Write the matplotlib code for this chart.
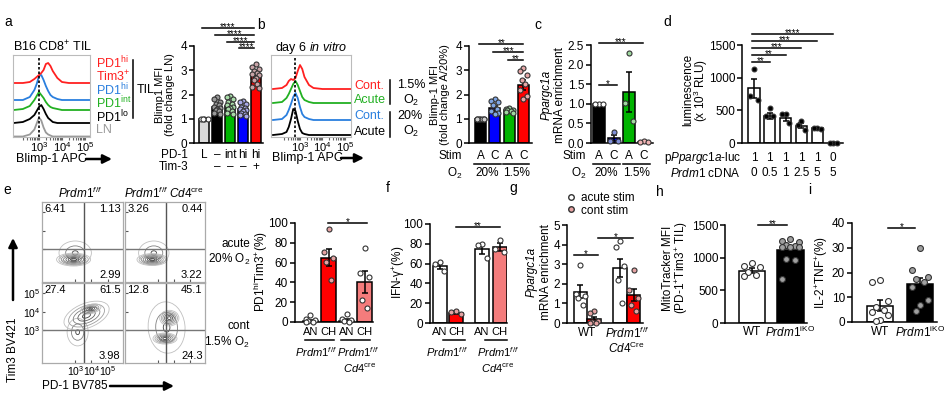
import matplotlib
matplotlib.use('Agg')
import matplotlib.pyplot as plt
from matplotlib.patches import Ellipse, FancyArrowPatch
from matplotlib.lines import Line2D
import numpy as np

plt.rcParams['font.family'] = ['Liberation Sans', 'DejaVu Sans']
plt.rcParams['mathtext.fontset'] = 'custom'
plt.rcParams['mathtext.rm'] = 'Liberation Sans'
plt.rcParams['mathtext.it'] = 'Liberation Sans:italic'
plt.rcParams['mathtext.bf'] = 'Liberation Sans:bold'
plt.rcParams['font.size'] = 8.5

# ---------------- data ----------------
# a: flow histograms (x = log10 fluorescence, y = relative height)
hist_a_x = [1.9, 2.3, 2.6, 2.8, 2.9, 3.0, 3.1, 3.2, 3.3, 3.4, 3.5, 3.6, 3.8, 4.0, 4.3, 5.2]
hist_a = {
    'red':   [0, 0, 1, 4, 6, 8, 10, 13, 19, 20, 17, 12, 5, 1, 0, 0],
    'blue':  [0, 0, 3, 10, 16, 24, 25, 20, 14, 9, 5, 3, 1, 0, 0, 0],
    'green': [0, 1, 4, 10, 14, 18, 15, 12, 8, 5, 3, 2, 1, 0, 0, 0],
    'black': [0, 1, 4, 8, 12, 16, 18, 14, 9, 5, 3, 1, 0, 0, 0, 0],
    'gray':  [0, 0, 2, 7, 13, 19, 16, 9, 4, 2, 1, 0, 0, 0, 0, 0],
}
a_cats = ['L', '–', 'int', 'hi', 'hi']
a_tim3 = ['', '–', '–', '–', '+']
a_mean = [1.0, 1.47, 1.52, 1.4, 2.75]
a_err = [0.02, 0.07, 0.07, 0.06, 0.09]
a_pts = [[1.0, 1.0, 1.0, 1.0],
         [1.9, 1.8, 1.7, 1.6, 1.55, 1.5, 1.45, 1.4, 1.35, 1.3, 1.25, 1.2],
         [1.95, 1.9, 1.8, 1.7, 1.6, 1.55, 1.5, 1.45, 1.4, 1.3, 1.25, 1.2],
         [1.75, 1.7, 1.6, 1.5, 1.45, 1.4, 1.35, 1.3, 1.25, 1.2, 1.15, 1.1],
         [3.25, 3.15, 3.05, 2.95, 2.9, 2.85, 2.8, 2.7, 2.6, 2.45, 2.3, 2.25]]

# b: in vitro histograms
hist_b_x = [1.8, 2.2, 2.4, 2.5, 2.6, 2.7, 2.8, 2.9, 3.0, 3.1, 3.2, 3.4, 3.6, 4.0, 5.3]
hist_b = {
    'red':   [0, 1, 4, 8, 10, 9, 11, 18, 24, 20, 12, 4, 1, 0, 0],
    'green': [0, 1, 5, 9, 14, 19, 22, 18, 12, 6, 3, 1, 0, 0, 0],
    'blue':  [0, 1, 5, 10, 16, 23, 27, 22, 13, 6, 3, 1, 0, 0, 0],
    'black': [0, 1, 3, 8, 16, 26, 24, 14, 6, 2, 1, 0, 0, 0, 0],
}
b_stim = ['A', 'C', 'A', 'C']
b_o2 = ['20%', '1.5%']
b_mean = [1.0, 1.43, 1.36, 2.38]
b_err = [0.01, 0.1, 0.03, 0.2]
b_pts = [[1.0] * 7,
         [1.8, 1.75, 1.7, 1.55, 1.4, 1.3, 1.25, 1.2],
         [1.45, 1.4, 1.38, 1.35, 1.3, 1.28, 1.25],
         [3.1, 2.95, 2.8, 2.6, 2.45, 2.2, 1.95, 1.8]]

# c: Ppargc1a mRNA
c_mean = [1.0, 0.12, 1.3, 0.03]
c_err = [0.0, 0.08, 0.52, 0.01]
c_pts = [[1.0, 1.0, 1.0], [0.28, 0.05, 0.04], [2.3, 1.02, 0.55], [0.05, 0.02, 0.02]]

# d: luciferase
d_luc = ['1', '1', '1', '1', '1', '0']
d_cdna = ['0', '0.5', '1', '2.5', '5', '5']
d_mean = [840, 420, 390, 265, 225, 0]
d_err = [145, 45, 60, 40, 8, 0]
d_pts = [[1130, 720, 660], [540, 420, 410], [450, 440, 300],
         [340, 270, 200], [230, 225, 220], [0, 0, 0]]

# e: flow quadrants
e_ul = [6.41, 3.26, 27.4, 12.8]
e_ur = [1.13, 0.44, 61.5, 45.1]
e_lr = [2.99, 3.22, 3.98, 24.3]
e_gate_x = [3.55, 3.5, 3.55, 3.5]
e_gate_y = [3.0, 3.0, 3.0, 3.0]
# contour blobs: (x, y, width, height, angle, levels) in log10 units
e_blobs = [
    [(3.0, 2.8, 2.0, 1.3, 0, 3), (2.9, 2.44, 2.1, 0.7, 0, 7)],
    [(2.75, 2.8, 1.9, 1.3, 0, 3), (2.65, 2.44, 1.9, 0.65, 0, 7)],
    [(3.15, 2.9, 1.3, 1.5, 0, 3), (3.7, 3.8, 2.9, 1.35, 18, 5), (3.95, 4.15, 1.3, 0.5, 12, 5)],
    [(3.55, 3.15, 2.3, 2.8, 8, 3), (3.72, 3.66, 1.2, 0.85, 0, 6), (3.45, 2.55, 1.5, 0.6, 0, 6)],
]
e_cats = ['AN', 'CH', 'AN', 'CH']
e_mean = [1.5, 65, 1.5, 40.5]
e_err = [1.0, 8.5, 1.2, 11]
e_pts = [[7, 3, 2, 1, 0.5, 0.3], [94, 71, 65, 61, 42], [8, 3, 2, 1, 0.5],
         [75, 50, 45, 22, 14]]

# f: IFN-g
f_mean = [58, 10.5, 75, 77]
f_err = [3, 1.5, 5, 4]
f_pts = [[62, 60, 53], [12, 11, 9], [80, 79, 66], [84, 75, 72]]

# g: Ppargc1a, WT vs Prdm1 cKO
g_mean = [1.6, 0.2, 2.82, 1.43]
g_err = [0.32, 0.12, 0.45, 0.33]
g_pts = [[2.95, 1.5, 1.4, 1.3, 0.9], [0.6, 0.5, 0.1, 0.05, 0.0, 0.0],
         [4.2, 3.9, 2.9, 2.2, 1.0], [2.7, 1.7, 1.3, 0.9, 0.6]]

# h: MitoTracker
h_mean = [800, 1110]
h_err = [40, 60]
h_pts = [[920, 880, 860, 780, 730, 720],
         [1280, 1260, 1240, 1190, 1180, 1170, 1170, 1160, 980, 970, 680]]

# i: IL-2+TNF+
i_mean = [6.6, 15.2]
i_err = [2.2, 2.5]
i_pts = [[17, 16, 8.5, 6, 5, 4, 3, 1, 0.5], [30, 21, 18, 17.5, 16, 14, 9, 7, 4.5]]

RED = '#ff0000'
SALMON = '#f47c7c'
GREEN = '#00b400'
BLUE = '#0000ff'
PINK = '#e6a3a3'

# ---------------- helpers ----------------
W, H = 953, 398
fig = plt.figure(figsize=(W / 100, H / 100), dpi=100)


def axes_px(x0, y0, x1, y1):
    ax = fig.add_axes([x0 / W, 1 - y1 / H, (x1 - x0) / W, (y1 - y0) / H])
    ax.hpx = y1 - y0
    return ax


def ftext(x, y, s, **kw):
    kw.setdefault('ha', 'center')
    kw.setdefault('va', 'center')
    fig.text(x / W, 1 - y / H, s, **kw)


def fline(x0, y0, x1, y1, **kw):
    kw.setdefault('color', 'black')
    kw.setdefault('lw', 1.1)
    fig.add_artist(Line2D([x0 / W, x1 / W], [1 - y0 / H, 1 - y1 / H],
                          transform=fig.transFigure, **kw))


def farrow(x0, y0, x1, y1):
    fig.add_artist(FancyArrowPatch((x0 / W, 1 - y0 / H), (x1 / W, 1 - y1 / H),
                                   transform=fig.transFigure, arrowstyle='-|>',
                                   mutation_scale=13, lw=1.8, color='black',
                                   shrinkA=0, shrinkB=0))


def bar_axes(box, xlim, ylim, yticks):
    ax = axes_px(*box)
    ax.set_xlim(xlim)
    ax.set_ylim(ylim)
    ax.set_yticks(yticks)
    ax.set_xticks([])
    ax.spines[['top', 'right']].set_visible(False)
    ax.spines[['left', 'bottom']].set_linewidth(1.1)
    ax.tick_params(axis='y', length=3.5, width=1.1, labelsize=8.5, pad=1.5)
    ax.patch.set_visible(False)
    return ax


PAT = np.array([0, -1, 1, -0.5, 0.5, -1, 1, 0, -0.5, 0.5, -1, 1, 0, -0.75, 0.75])


def bars(ax, pos, vals, errs, fills, pts, pfills, width, ms=13):
    ax.bar(pos, vals, width=width, color=fills, edgecolor='black', linewidth=1.1, zorder=2)
    ax.errorbar(pos, vals, yerr=errs, fmt='none', ecolor='black', elinewidth=1.1,
                capsize=2.5, capthick=1.1, zorder=3)
    for i, p in enumerate(pts):
        offs = PAT[:len(p)] * width * 0.32
        ax.scatter(np.array(pos[i]) + offs, p, s=ms, facecolor=pfills[i],
                   edgecolor='#333333', linewidth=0.8, zorder=4, clip_on=False)


def sig(ax, x0, x1, y, s):
    ax.plot([x0, x1], [y, y], color='black', lw=1.1, clip_on=False)
    ax.annotate(s, ((x0 + x1) / 2, y), xytext=(0, -3.2), textcoords='offset points',
                ha='center', va='bottom', fontsize=7, annotation_clip=False)


def under(ax, x, dy, s, **kw):
    ax.text(x, -dy / ax.hpx, s, transform=ax.get_xaxis_transform(), ha='center',
            va='center', clip_on=False, **kw)


def underline(ax, x0, x1, dy):
    ax.plot([x0, x1], [-dy / ax.hpx] * 2, transform=ax.get_xaxis_transform(),
            color='black', lw=1.1, clip_on=False)


def hist_axes(box, xlim):
    ax = axes_px(*box)
    ax.set_xlim(xlim)
    ax.set_ylim(0, box[3] - box[1])
    ax.set_yticks([])
    ax.set_xticks([3, 4, 5])
    ax.set_xticklabels(['$10^3$', '$10^4$', '$10^5$'], fontsize=8)
    minor = np.log10(np.outer([2, 3, 4, 5, 6, 7, 8, 9], [1e2, 1e3, 1e4]).ravel())
    ax.set_xticks(minor[minor < xlim[1]], minor=True)
    ax.tick_params(axis='x', which='both', length=2, width=0.8, color='#666', pad=0)
    for s in ax.spines.values():
        s.set_color('#bbbbbb')
        s.set_linewidth(0.8)
    return ax


# ---------------- panel a: histograms ----------------
ax = hist_axes((13, 55, 90, 137), (1.87, 5.22))
a_cols = {'red': '#ff2020', 'blue': '#2a7fde', 'green': '#22b022', 'black': 'black', 'gray': '#9a9a9a'}
a_base = {'red': 54, 'blue': 37, 'green': 27, 'black': 14, 'gray': 0.5}
for k in ['gray', 'black', 'green', 'blue', 'red']:
    ax.plot(hist_a_x, np.array(hist_a[k]) + a_base[k], color=a_cols[k], lw=1.3)
ax.axvline(3.0, color='black', lw=1.2, ls=(0, (1.5, 1.2)), ymax=0.98)
ftext(53, 47, 'B16 CD8$^{+}$ TIL', fontsize=9)
for y, s, c in [(63, 'PD1$^{\\mathrm{hi}}$', '#ff2020'), (77, 'Tim3$^{+}$', '#ff2020'),
                (90, 'PD1$^{\\mathrm{hi}}$', '#2a7fde'), (103, 'PD1$^{\\mathrm{int}}$', '#22b022'),
                (117, 'PD1$^{\\mathrm{lo}}$', 'black'), (130, 'LN', '#9a9a9a')]:
    ftext(96, y, s, color=c, ha='left', fontsize=9)
fline(133, 60, 133, 118)
ftext(137, 90, 'TIL', ha='left', fontsize=9)
ftext(16, 159, 'Blimp-1 APC', ha='left', fontsize=9)
farrow(86, 159, 112, 159)

# ---------------- panel a: bars ----------------
ax = bar_axes((194, 46, 263, 143), (-0.8, 4.56), (0, 4), [0, 1, 2, 3, 4])
pos = np.arange(5)
bars(ax, pos, a_mean, a_err, ['#d9d9d9', 'black', GREEN, BLUE, RED], a_pts,
     ['#ffffff', '#9a9a9a', '#a8dca8', '#a8a8e8', '#c9a4a8'], 0.8)
for p, s in zip(pos, a_cats):
    under(ax, p, 12, s)
for p, s in zip(pos, a_tim3):
    under(ax, p, 24, s)
ftext(188, 155, 'PD-1', ha='right')
ftext(188, 167, 'Tim-3', ha='right')
for x0, y in zip([-0.2, 0.8, 1.8, 2.7], [4.74, 4.45, 4.16, 3.92]):
    sig(ax, x0, 3.85, y, '****')
ftext(165, 95, 'Blimp1 MFI\n(fold change LN)', rotation=90, linespacing=1.05, fontsize=8)

# ---------------- panel b: histograms ----------------
ax = hist_axes((271, 55, 351, 137), (1.71, 5.27))
b_cols = {'red': '#ff2020', 'green': '#22b022', 'blue': '#2a7fde', 'black': 'black'}
b_base = {'red': 48, 'green': 34, 'blue': 17, 'black': 2}
for k in ['black', 'blue', 'green', 'red']:
    ax.plot(hist_b_x, np.array(hist_b[k]) + b_base[k], color=b_cols[k], lw=1.3)
ax.axvline(2.78, color='black', lw=1.2, ls=(0, (1.5, 1.2)), ymax=0.98)
ftext(311, 48, 'day 6 $\\mathit{in\\ vitro}$', fontsize=9)
for y, s, c in [(86, 'Cont.', '#ff2020'), (100, 'Acute', '#22b022'),
                (116, 'Cont.', '#2a7fde'), (132, 'Acute', 'black')]:
    ftext(354, y, s, color=c, ha='left', fontsize=9)
fline(390, 80, 390, 104)
fline(390, 112, 390, 137)
ftext(397, 85, '1.5%', ha='left', fontsize=9)
ftext(403, 100, 'O$_2$', ha='left', fontsize=9)
ftext(397, 116, '20%', ha='left', fontsize=9)
ftext(403, 131, 'O$_2$', ha='left', fontsize=9)
ftext(272, 158, 'Blimp-1 APC', ha='left', fontsize=9)
farrow(341, 158, 364, 158)

# ---------------- panel b: bars ----------------
ax = bar_axes((469, 46, 532, 143), (-0.8, 3.6), (0, 4), [0, 1, 2, 3, 4])
pos = np.arange(4)
bars(ax, pos, b_mean, b_err, ['black', BLUE, GREEN, RED], b_pts,
     ['#d0d0d0', '#7fa6e6', '#9fd89f', '#e6a8a8'], 0.77)
for p, s in zip(pos, b_stim):
    under(ax, p, 13, s)
underline(ax, -0.42, 1.42, 21)
underline(ax, 1.58, 3.42, 21)
under(ax, 0.5, 30, b_o2[0])
under(ax, 2.5, 30, b_o2[1])
ftext(462, 156, 'Stim', ha='right')
ftext(462, 173, 'O$_2$', ha='right')
sig(ax, -0.1, 3.0, 4.08, '**')
sig(ax, 0.9, 3.0, 3.75, '***')
sig(ax, 1.9, 3.0, 3.42, '**')
ftext(440, 95, 'Blimp-1 MFI\n(fold change A/20%)', rotation=90, linespacing=1.05, fontsize=8)

# ---------------- panel c ----------------
ax = bar_axes((591, 45, 653, 143), (-0.53, 3.6), (0, 2.5), [0, 0.5, 1.0, 1.5, 2.0, 2.5])
ax.set_yticklabels(['0.0', '0.5', '1.0', '1.5', '2.0', '2.5'])
bars(ax, pos, c_mean, c_err, ['black', BLUE, GREEN, RED], c_pts,
     ['#ffffff', '#7f8fd8', '#9fd89f', '#f0b4b4'], 0.8)
for p, s in zip(pos, b_stim):
    under(ax, p, 13, s)
underline(ax, -0.42, 1.42, 21)
underline(ax, 1.58, 3.42, 21)
under(ax, 0.5, 30, b_o2[0])
under(ax, 2.5, 30, b_o2[1])
ftext(586, 156, 'Stim', ha='right')
ftext(586, 173, 'O$_2$', ha='right')
sig(ax, 0, 2.95, 2.55, '***')
sig(ax, 0, 1.2, 1.48, '*')
ftext(547, 95, 'Ppargc1a', rotation=90, style='italic')
ftext(560, 95, 'mRNA enrichment', rotation=90)

# ---------------- panel d ----------------
ax = bar_axes((742, 45, 843, 143), (-0.76, 5.63), (0, 1500), [0, 500, 1000, 1500])
pos6 = np.arange(6)
bars(ax, pos6, d_mean, d_err, ['white'] * 6, d_pts, ['black'] * 6, 0.7, ms=12)
for p, s in zip(pos6, d_luc):
    under(ax, p, 15, s)
for p, s in zip(pos6, d_cdna):
    under(ax, p, 30, s)
ftext(741, 158, 'p$\\mathit{Ppargc1a}$-luc', ha='right')
ftext(741, 173, '$\\mathit{Prdm1}$ cDNA', ha='right')
for x1, y, s in zip([5, 4, 3, 2, 1], [1669, 1562, 1455, 1348, 1240],
                    ['****', '***', '***', '**', '**']):
    sig(ax, -0.13, x1, y, s)
ftext(688, 90, 'luminescence', rotation=90)
ftext(701, 90, '(x 10$^3$ RLU)', rotation=90)

# ---------------- panel e: flow ----------------
flow_boxes = [(42, 202, 123, 282), (125, 202, 205, 282), (42, 283, 123, 363), (125, 283, 205, 363)]
for k, box in enumerate(flow_boxes):
    ax = axes_px(*box)
    ax.set_xlim(0.95, 5.95)
    ax.set_ylim(1.22, 5.57)
    for s in ax.spines.values():
        s.set_color('#aaaaaa')
        s.set_linewidth(0.9)
    for bx, by, bw, bh, ang, n in e_blobs[k]:
        for j, sc in enumerate(np.linspace(1, 0.18, n)):
            g = 0.75 - 0.5 * j / max(n - 1, 1)
            ax.add_patch(Ellipse((bx, by), bw * sc, bh * sc, angle=ang, fill=False,
                                 edgecolor=(g, g, g), lw=0.6))
    ax.axvline(e_gate_x[k], color='#555555', lw=1.0)
    ax.axhline(e_gate_y[k], color='#777777', lw=1.0)
    ax.text(0.03, 0.97, f'{e_ul[k]}', transform=ax.transAxes, ha='left', va='top', fontsize=8)
    ax.text(0.97, 0.97, f'{e_ur[k]}', transform=ax.transAxes, ha='right', va='top', fontsize=8)
    ax.text(0.97, 0.03, f'{e_lr[k]}', transform=ax.transAxes, ha='right', va='bottom', fontsize=8)
    ax.set_xticks([3, 4, 5])
    ax.set_yticks([3, 4, 5])
    ax.tick_params(which='both', direction='in', length=2, width=0.8, color='#555555',
                   labelsize=7.5, pad=1)
    if k == 2:
        ax.set_xticklabels(['$10^3$', '$10^4$', '$10^5$'])
        ax.set_yticklabels(['$10^3$', '$10^4$', '$10^5$'])
    else:
        ax.set_xticklabels([])
        ax.set_yticklabels([])
ftext(80, 193, '$\\mathit{Prdm1}^{\\mathit{f/f}}$')
ftext(164, 193, '$\\mathit{Prdm1}^{\\mathit{f/f}}\\ \\mathit{Cd4}^{\\mathrm{cre}}$')
ftext(250, 244, 'acute', ha='right')
ftext(250, 259, '20% O$_2$', ha='right')
ftext(250, 326, 'cont', ha='right')
ftext(250, 342, '1.5% O$_2$', ha='right')
ftext(13, 350, 'Tim3 BV421', rotation=90)
farrow(13, 300, 13, 238)
ftext(42, 386, 'PD-1 BV785', ha='left')
farrow(110, 386, 174, 386)

# ---------------- panel e: bars ----------------
ax = bar_axes((295, 223, 373, 322), (-0.86, 3.47), (0, 100), [0, 20, 40, 60, 80, 100])
bars(ax, pos, e_mean, e_err, ['black', RED, 'black', SALMON], e_pts,
     ['white', PINK, 'white', 'white'], 0.83)
for p, s in zip(pos, e_cats):
    under(ax, p, 10, s, fontsize=8)
underline(ax, -0.3, 1.3, 18)
underline(ax, 1.7, 3.3, 18)
under(ax, 0.3, 30, '$\\mathit{Prdm1}^{\\mathit{f/f}}$', fontsize=8)
under(ax, 2.65, 30, '$\\mathit{Prdm1}^{\\mathit{f/f}}$', fontsize=8)
under(ax, 2.7, 46, '$\\mathit{Cd4}^{\\mathrm{cre}}$', fontsize=8)
sig(ax, 0.97, 3.14, 100, '*')
ftext(261, 272, 'PD1$^{\\mathrm{hi}}$Tim3$^{+}$(%)', rotation=90)

# ---------------- panel f ----------------
posf = np.array([0, 0.97, 2.55, 3.6])
ax = bar_axes((430, 224, 507, 323), (-0.6, 4.05), (0, 100), [0, 20, 40, 60, 80, 100])
bars(ax, posf, f_mean, f_err, ['white', RED, 'white', SALMON], f_pts,
     ['white', PINK, 'white', 'white'], 0.85)
for p, s in zip(posf, e_cats):
    under(ax, p, 9, s, fontsize=8)
underline(ax, 0.18, 1.52, 17)
underline(ax, 2.73, 4.06, 17)
under(ax, 0.42, 29, '$\\mathit{Prdm1}^{\\mathit{f/f}}$', fontsize=8)
under(ax, 3.5, 29, '$\\mathit{Prdm1}^{\\mathit{f/f}}$', fontsize=8)
under(ax, 3.5, 45, '$\\mathit{Cd4}^{\\mathrm{cre}}$', fontsize=8)
sig(ax, 0.97, 3.6, 97, '**')
ftext(399, 272, 'IFN-γ$^{+}$(%)', rotation=90)

# ---------------- panel g ----------------
posg = np.array([0, 1, 2.93, 3.93])
ax = bar_axes((567, 225, 643, 323), (-1.0, 4.63), (0, 5), [0, 1, 2, 3, 4, 5])
bars(ax, posg, g_mean, g_err, ['white', RED, 'white', RED], g_pts,
     ['white', PINK, 'white', PINK], 0.98)
under(ax, 0.5, 10, 'WT')
under(ax, 3.43, 10, '$\\mathit{Prdm1}^{\\mathit{f/f}}$')
under(ax, 3.43, 25, '$\\mathit{Cd4}^{\\mathrm{Cre}}$')
sig(ax, -0.5, 1.3, 3.47, '*')
sig(ax, 1.3, 3.9, 4.34, '*')
handles = [Line2D([], [], marker='o', ls='', mfc='white', mec='#333333', ms=4),
           Line2D([], [], marker='o', ls='', mfc=PINK, mec='#333333', ms=4)]
fig.legend(handles, ['acute stim', 'cont stim'], loc='upper left',
           bbox_to_anchor=(566 / W, 1 - 192 / H), frameon=False, fontsize=8.5,
           handlelength=0.8, handletextpad=0.5, labelspacing=0.05, borderpad=0,
           borderaxespad=0)
ftext(532, 272, 'Ppargc1a', rotation=90, style='italic')
ftext(546, 272, 'mRNA enrichment', rotation=90)

# ---------------- panel h ----------------
ax = bar_axes((725, 225, 807, 323), (-0.7, 1.43), (0, 1500), [0, 500, 1000, 1500])
bars(ax, [0, 1], h_mean, h_err, ['white', 'black'], h_pts, ['white', '#a0a0a0'], 0.68, ms=18)
under(ax, 0, 9, 'WT')
under(ax, 1, 9, '$\\mathit{Prdm1}^{\\mathrm{iKO}}$')
sig(ax, 0.16, 0.92, 1500, '**')
ftext(668, 268, 'MitoTracker MFI', rotation=90)
ftext(682, 268, '(PD-1$^{+}$Tim3$^{+}$ TIL)', rotation=90)

# ---------------- panel i ----------------
ax = bar_axes((852, 223, 937, 322), (-0.7, 1.43), (0, 40), [0, 10, 20, 30, 40])
bars(ax, [0, 1], i_mean, i_err, ['white', 'black'], i_pts, ['white', '#a0a0a0'], 0.65, ms=18)
under(ax, 0, 10, 'WT')
under(ax, 1, 10, '$\\mathit{Prdm1}^{\\mathrm{iKO}}$')
sig(ax, 0.2, 0.88, 38, '*')
ftext(822, 272, 'IL-2$^{+}$TNF$^{+}$(%)', rotation=90)

# ---------------- panel letters ----------------
for x, y, s in [(8, 22, 'a'), (261, 25, 'b'), (538, 25, 'c'), (667, 22, 'd'),
                (7, 190, 'e'), (388, 188, 'f'), (513, 188, 'g'), (660, 192, 'h'),
                (810, 190, 'i')]:
    ftext(x, y, s, fontsize=10)

fig.savefig('out.png', dpi=100)
